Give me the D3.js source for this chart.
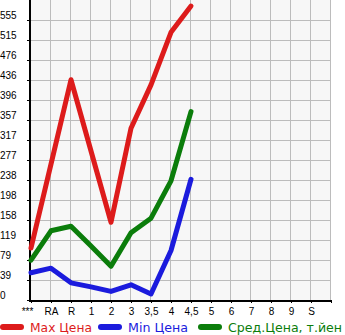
<!DOCTYPE html>
<html lang="ru">
<head>
  <meta charset="UTF-8">
  <title>Цены</title>
  <script src="https://d3js.org/d3.v7.min.js"></script>
  <style>
    body { margin: 0; padding: 0; background: #fff; }
    svg { display: block; font-family: "DejaVu Sans", sans-serif; }
    .grid line { stroke: #bcbcbc; stroke-width: 1px; }
    .series { fill: none; stroke-width: 5px; stroke-linejoin: round; stroke-linecap: round; }
  </style>
</head>
<body>
  <div id="chart"></div>

  <script>
    const categories = ["***", "RA", "R", "1", "2", "3", "3,5", "4", "4,5", "5", "6", "7", "8", "9", "S"];
    const maxPrice = [103, 269, 436, 295, 154, 340, 426, 530, 582];
    const minPrice = [54, 63, 34, 26, 17, 30, 12, 98, 239];
    const avgPrice = [79, 137, 146, 107, 67, 133, 162, 236, 373];
    const yTicks = [0, 39.6, 79.2, 118.8, 158.4, 198, 237.6, 277.2, 316.8, 356.4, 396, 435.6, 475.2, 514.8, 554.4];
    const yTickLabels = ["0", "39", "79", "119", "158", "198", "238", "277", "317", "357", "396", "436", "476", "515", "555"];
    const legendNames = ["Max Цена", "Min Цена", "Сред.Цена, т.йен"];
    const colors = ["#dd1b1b", "#1b1bdd", "#0b7d0b"];

    const width = 345;
    const height = 335;
    const plotLeft = 31, plotRight = 331, plotTop = 0, plotBottom = 300;

    const x = d3.scaleLinear().domain([0, categories.length]).range([plotLeft, plotRight]);
    const y = d3.scaleLinear().domain([0, 594]).range([plotBottom, plotTop]);

    const svg = d3.select("#chart")
      .append("svg")
      .attr("width", width)
      .attr("height", height);

    svg.append("rect")
      .attr("x", plotLeft).attr("y", plotTop)
      .attr("width", plotRight - plotLeft).attr("height", plotBottom - plotTop)
      .attr("fill", "#f7f7f7");

    // grid
    const grid = svg.append("g").attr("class", "grid");
    grid.selectAll(".v")
      .data(d3.range(1, categories.length + 1))
      .enter().append("line")
      .attr("x1", d => x(d) - 0.5).attr("x2", d => x(d) - 0.5)
      .attr("y1", plotTop).attr("y2", plotBottom);
    grid.selectAll(".h")
      .data(yTicks.slice(1))
      .enter().append("line")
      .attr("x1", plotLeft).attr("x2", plotRight)
      .attr("y1", d => Math.round(y(d)) + 0.5).attr("y2", d => Math.round(y(d)) + 0.5);

    // y axis
    const yAxis = d3.axisLeft(y)
      .tickValues(yTicks)
      .tickFormat((d, i) => yTickLabels[i])
      .tickSize(4);
    const gy = svg.append("g")
      .attr("transform", `translate(${plotLeft},0)`)
      .call(yAxis);
    gy.select(".domain").remove();
    gy.selectAll(".tick line").attr("stroke", "#000");
    gy.selectAll(".tick text")
      .attr("x", -31)
      .attr("dy", "-2px")
      .attr("text-anchor", "start")
      .attr("font-size", 10)
      .attr("fill", "#000");
    svg.append("line")
      .attr("x1", plotLeft - 1).attr("x2", plotLeft - 1)
      .attr("y1", plotTop).attr("y2", plotBottom + 1)
      .attr("stroke", "#000").attr("stroke-width", 2);

    // x axis
    const xAxis = d3.axisBottom(x)
      .tickValues(d3.range(0, categories.length + 1))
      .tickFormat(i => categories[i] || "")
      .tickSize(3);
    const gx = svg.append("g")
      .attr("transform", `translate(0,${plotBottom})`)
      .call(xAxis);
    gx.select(".domain").remove();
    gx.selectAll(".tick line").attr("stroke", "#000");
    gx.selectAll(".tick text")
      .attr("y", 8)
      .attr("font-size", 10)
      .attr("fill", "#000");
    gx.selectAll(".tick text").filter(i => i === 0).attr("dx", "-4px");
    svg.append("line")
      .attr("x1", plotLeft - 2).attr("x2", plotRight)
      .attr("y1", plotBottom + 1).attr("y2", plotBottom + 1)
      .attr("stroke", "#000").attr("stroke-width", 2);

    // series
    const line = d3.line()
      .x((d, i) => x(i))
      .y(d => y(d));

    [maxPrice, minPrice, avgPrice].forEach((s, k) => {
      svg.append("path")
        .datum(s)
        .attr("class", "series")
        .attr("stroke", colors[k])
        .attr("d", line);
    });

    // legend
    const legendX = [3, 101, 201];
    const legendW = [62, 60, 114];
    const legend = svg.selectAll(".legend")
      .data(legendNames)
      .enter().append("g")
      .attr("transform", (d, i) => `translate(${legendX[i]},327)`);
    legend.append("line")
      .attr("x1", 0).attr("x2", 18)
      .attr("stroke", (d, i) => colors[i])
      .attr("stroke-width", 6)
      .attr("stroke-linecap", "round");
    legend.append("text")
      .attr("x", 27)
      .attr("y", 5)
      .attr("font-size", 13)
      .attr("textLength", (d, i) => legendW[i])
      .attr("lengthAdjust", "spacingAndGlyphs")
      .attr("fill", (d, i) => colors[i])
      .text(d => d);
  </script>
</body>
</html>
